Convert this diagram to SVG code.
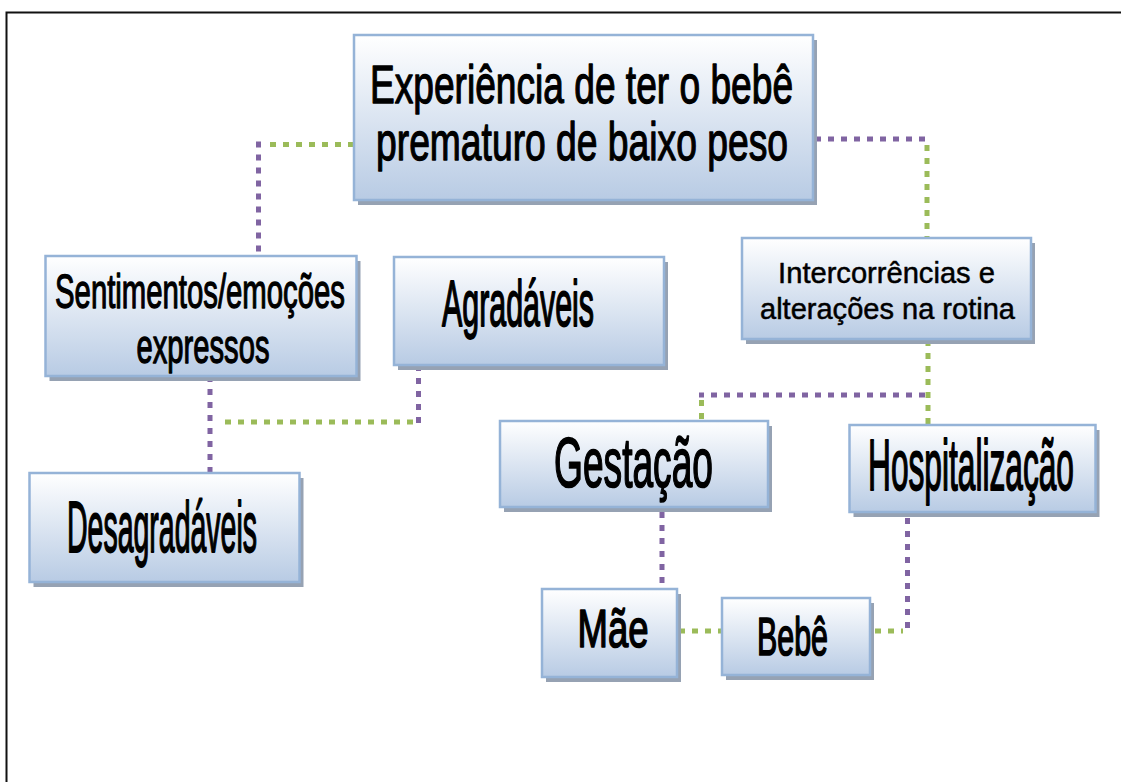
<svg xmlns="http://www.w3.org/2000/svg" width="1121" height="782" viewBox="0 0 1121 782">
<defs>
<linearGradient id="g" x1="0" y1="0" x2="0" y2="1">
<stop offset="0" stop-color="#ffffff"/>
<stop offset="1" stop-color="#b8cbe4"/>
</linearGradient>
<style>
.sh{fill:#96a2b3}
.bx{fill:url(#g);stroke:#95b3d7;stroke-width:2.5}
.t{font-family:"Liberation Sans",Arial,sans-serif;fill:#000;text-anchor:middle;stroke:#000;stroke-width:1.4;stroke-linejoin:round;vector-effect:non-scaling-stroke}
.m{stroke-width:1.1}
.s{stroke-width:0.5}
.p{fill:none;stroke:#8064a2;stroke-width:5;stroke-dasharray:6 7}
.gr{fill:none;stroke:#9bbb59;stroke-width:5;stroke-dasharray:6 7}
</style>
</defs>
<rect width="1121" height="782" fill="#fff"/>
<path d="M6.5,782 V12.5 H1121" fill="none" stroke="#111" stroke-width="2"/>
<g id="connectors">
<path class="gr" d="M354,144.5 H264"/>
<path class="p" d="M258.5,141.5 V256"/>
<path class="p" d="M815,139 H931"/>
<path class="gr" d="M927,145 V237"/>
<path class="p" d="M210,376 V472"/>
<path class="p" d="M418.5,365 V425"/>
<path class="gr" d="M413,422 H219"/>
<path class="gr" d="M928,340 V425"/>
<path class="p" d="M925,395 H699"/>
<path class="gr" d="M701.5,400 V421"/>
<path class="p" d="M662,512 V588"/>
<path class="gr" d="M679,631 H721"/>
<path class="gr" d="M875,631 H903"/>
<path class="p" d="M907.5,518 V633"/>
</g>
<g id="main">
<rect class="sh" x="358" y="40" width="459" height="165"/>
<rect class="bx" x="354" y="35" width="459" height="165"/>
<text class="t m" transform="translate(581.5,103) scale(0.7005,1)" font-size="53">Experiência de ter o bebê</text>
<text class="t m" transform="translate(582,160) scale(0.7028,1)" font-size="53">prematuro de baixo peso</text>
</g>
<g id="sentimentos">
<rect class="sh" x="49.5" y="261" width="311" height="120"/>
<rect class="bx" x="45.5" y="256" width="311" height="120"/>
<text class="t m" transform="translate(200,308) scale(0.6107,1)" font-size="48">Sentimentos/emoções</text>
<text class="t m" transform="translate(203,363) scale(0.608,1)" font-size="48">expressos</text>
</g>
<g id="agradaveis">
<rect class="sh" x="398" y="262" width="270" height="108"/>
<rect class="bx" x="394" y="257" width="270" height="108"/>
<text class="t" transform="translate(518,326) scale(0.4748,1)" font-size="64">Agradáveis</text>
</g>
<g id="intercorrencias">
<rect class="sh" x="746" y="243" width="289" height="101"/>
<rect class="bx" x="742" y="238" width="289" height="101"/>
<text class="t s" transform="translate(886.5,283) scale(0.971,1)" font-size="30">Intercorrências e</text>
<text class="t s" transform="translate(887.5,319) scale(0.968,1)" font-size="30">alterações na rotina</text>
</g>
<g id="desagradaveis">
<rect class="sh" x="33.5" y="478" width="270" height="109"/>
<rect class="bx" x="29.5" y="473" width="270" height="109"/>
<text class="t" transform="translate(162,551.5) scale(0.3957,1)" font-size="72">Desagradáveis</text>
</g>
<g id="gestacao">
<rect class="sh" x="504" y="426" width="268" height="86"/>
<rect class="bx" x="500" y="421" width="268" height="86"/>
<text class="t" transform="translate(633.5,486.5) scale(0.5307,1)" font-size="70">Gestação</text>
</g>
<g id="hospitalizacao">
<rect class="sh" x="853.5" y="430" width="246" height="87"/>
<rect class="bx" x="849.5" y="425" width="246" height="87"/>
<text class="t" transform="translate(971,490) scale(0.44,1)" font-size="72">Hospitalização</text>
</g>
<g id="mae">
<rect class="sh" x="546" y="594" width="135" height="88"/>
<rect class="bx" x="542" y="589" width="135" height="88"/>
<text class="t" transform="translate(613,646.5) scale(0.676,1)" font-size="54">Mãe</text>
</g>
<g id="bebe">
<rect class="sh" x="726" y="603" width="148" height="77"/>
<rect class="bx" x="722" y="598" width="148" height="77"/>
<text class="t" transform="translate(792.5,655) scale(0.5735,1)" font-size="53">Bebê</text>
</g>
</svg>
